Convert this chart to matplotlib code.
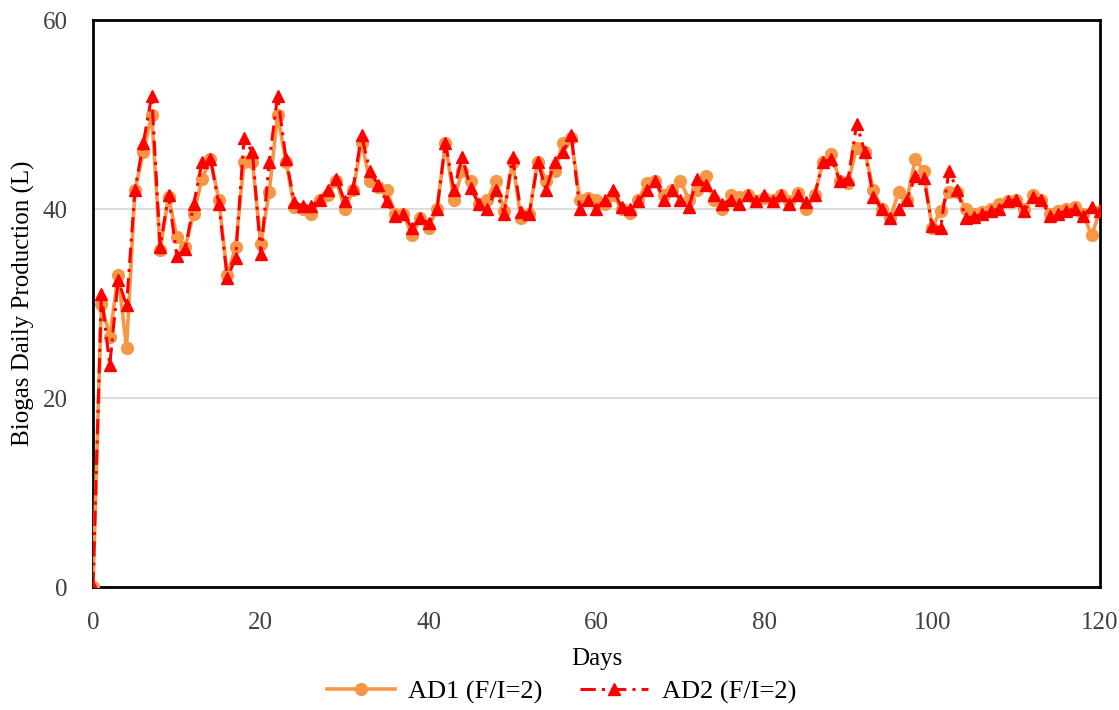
import matplotlib
matplotlib.use("Agg")
import matplotlib.pyplot as plt

# Daily biogas production (L) for two digesters over 120 days
days = list(range(0, 121))

ad1 = [0, 30, 26.5, 33, 25.3, 42, 46, 50, 35.7, 41.3,
       37, 36, 39.5, 43.2, 45.3, 41, 33, 36, 45, 45,
       36.3, 41.8, 50, 45, 40.2, 40, 39.5, 41, 41.5, 43,
       40, 42, 47, 43, 42.3, 42, 39.5, 39.5, 37.2, 39,
       38, 40, 47, 41, 44, 43, 40.5, 41, 43, 39.8,
       45, 39, 39.5, 45, 43, 44, 47, 47.5, 41, 41.2,
       41, 40.5, 41.5, 40, 39.6, 41, 42.8, 43, 41.5, 42,
       43, 41, 42, 43.5, 41, 40, 41.5, 41.3, 41.5, 40.8,
       41.2, 41, 41.5, 40.8, 41.7, 40, 41.5, 45, 45.8, 43,
       42.8, 46.5, 46, 42, 40, 39, 41.8, 41, 45.3, 44,
       38, 39.8, 41.8, 41.8, 40, 39.5, 39.7, 40, 40.5, 40.8,
       41, 40, 41.5, 41, 39.5, 39.8, 40, 40.2, 39.5, 37.2,
       39.8]

ad2 = [0, 31, 23.5, 32.5, 29.8, 42, 47, 52, 36, 41.5,
       35, 35.8, 40.5, 45, 45.3, 40.5, 32.7, 34.8, 47.5, 46,
       35.2, 45, 52, 45.3, 40.7, 40.3, 40.3, 41, 42, 43.2,
       40.8, 42.2, 47.8, 44, 42.5, 40.8, 39.3, 39.5, 38, 39,
       38.5, 40, 47, 42, 45.5, 42.2, 40.5, 40, 42, 39.5,
       45.5, 39.7, 39.5, 45, 42, 45, 46, 47.8, 40, 41,
       40, 41, 42, 40.2, 40, 40.8, 42, 43, 41, 42,
       41, 40.2, 43.2, 42.5, 41.5, 40.5, 41, 40.5, 41.5, 40.8,
       41.5, 40.8, 41.5, 40.5, 41.5, 40.7, 41.5, 45, 45.3, 43,
       43.2, 49, 46, 41.3, 40, 39, 40, 41, 43.5, 43.3,
       38.2, 38, 44, 42, 39, 39.2, 39.5, 39.8, 40, 40.8,
       41, 39.8, 41.3, 41, 39.3, 39.5, 39.8, 40, 39.3, 40.2,
       39.8]

x_ticks = [0, 20, 40, 60, 80, 100, 120]
y_ticks = [0, 20, 40, 60]

plt.rcParams["font.family"] = ["Liberation Serif", "DejaVu Serif"]

fig = plt.figure(figsize=(11.19, 7.10), dpi=100)
ax = fig.add_axes([0.0831, 0.1732, 0.8999, 0.7986])

ax.plot(days, ad1, color="#F79646", lw=2.6, marker="o", ms=8.5,
        mec="#F79646", mfc="#F79646", label="AD1 (F/I=2)", zorder=3)
ax.plot(days, ad2, color="#FF0000", lw=2.2, ls=(0, (5, 2, 1, 2)),
        marker="^", ms=9, mec="#FF0000", mfc="#FF0000",
        label="AD2 (F/I=2)", zorder=4)

ax.set_xlim(0, 120)
ax.set_ylim(0, 60)
ax.set_xticks(x_ticks)
ax.set_yticks(y_ticks)
ax.tick_params(axis="y", length=0, labelsize=18, pad=18, colors="#404040")
ax.tick_params(axis="x", length=0, labelsize=18, pad=18, colors="#404040")
ax.yaxis.grid(True, color="#D9D9D9", lw=1.3)
ax.set_axisbelow(True)
for s in ax.spines.values():
    s.set_color("black")
    s.set_linewidth(2)

ax.set_xlabel("Days", fontsize=18, labelpad=10)
ax.set_ylabel("Biogas Daily Production (L)", fontsize=18, labelpad=6)

ax.legend(loc="upper center", bbox_to_anchor=(0.465, -0.122), ncol=2,
          frameon=False, fontsize=19, handlelength=2.6, columnspacing=1.4,
          handletextpad=0.5)

fig.savefig("out.png", dpi=100)
